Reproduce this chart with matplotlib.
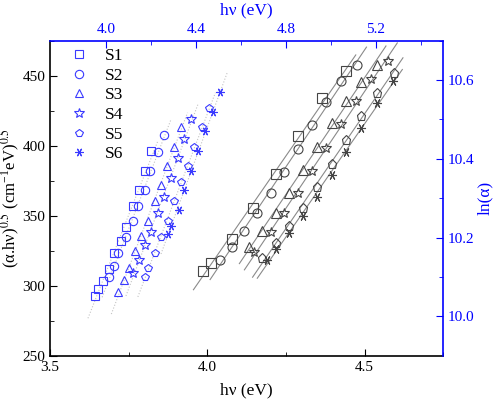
import numpy as np
import matplotlib
matplotlib.use("Agg")
import matplotlib.pyplot as plt

plt.rcParams['font.family'] = ['Liberation Serif', 'DejaVu Serif']
plt.rcParams['mathtext.fontset'] = 'stix'

labels = ['S1', 'S2', 'S3', 'S4', 'S5', 'S6']
markers = ['s', 'o', '^', '*', 'p', (6, 2, 90)]

# Tauc plot: (alpha.hv)^0.5 vs hv  (bottom / left axes)
tauc_x = [
    [3.986, 4.013, 4.077, 4.145, 4.217, 4.287, 4.365, 4.442],
    [4.039, 4.077, 4.118, 4.159, 4.201, 4.245, 4.289, 4.334, 4.378, 4.426, 4.476],
    [4.132, 4.173, 4.218, 4.260, 4.305, 4.349, 4.395, 4.441, 4.489, 4.538],
    [4.148, 4.203, 4.245, 4.289, 4.333, 4.378, 4.426, 4.472, 4.522, 4.574],
    [4.174, 4.217, 4.259, 4.304, 4.350, 4.395, 4.441, 4.489, 4.539, 4.592],
    [4.189, 4.217, 4.259, 4.304, 4.349, 4.395, 4.441, 4.489, 4.539, 4.590],
]
tauc_y = [
    [310.7, 316.0, 333.4, 355.3, 379.8, 407.1, 433.9, 453.1],
    [318.4, 327.9, 339.3, 351.7, 366.0, 381.0, 397.4, 414.6, 431.0, 446.0, 457.9],
    [327.9, 339.1, 351.9, 366.4, 382.6, 399.3, 416.0, 431.9, 445.7, 457.6],
    [324.3, 338.6, 351.7, 366.0, 382.1, 398.6, 415.5, 432.1, 447.6, 460.5],
    [319.6, 330.7, 342.6, 355.7, 370.7, 386.7, 404.1, 421.2, 437.9, 452.1],
    [318.4, 326.0, 337.4, 349.8, 363.6, 379.1, 395.7, 412.4, 430.3, 446.4],
]

# Urbach plot: ln(alpha) vs hv  (top / right axes)
urb_x = [
    [3.949, 3.962, 3.984, 4.011, 4.037, 4.064, 4.090, 4.118, 4.146, 4.173, 4.199],
    [4.012, 4.036, 4.054, 4.090, 4.118, 4.142, 4.174, 4.196, 4.229, 4.258],
    [4.053, 4.078, 4.102, 4.130, 4.157, 4.186, 4.217, 4.244, 4.272, 4.303, 4.332],
    [4.118, 4.145, 4.174, 4.201, 4.229, 4.258, 4.289, 4.318, 4.347, 4.378],
    [4.171, 4.186, 4.217, 4.245, 4.273, 4.304, 4.334, 4.365, 4.393, 4.428, 4.456],
    [4.274, 4.288, 4.322, 4.348, 4.379, 4.410, 4.441, 4.476, 4.508],
]
urb_y = [
    [10.051, 10.070, 10.089, 10.121, 10.161, 10.191, 10.228, 10.279, 10.320, 10.368, 10.419],
    [10.099, 10.129, 10.161, 10.201, 10.241, 10.280, 10.321, 10.368, 10.418, 10.460],
    [10.062, 10.093, 10.122, 10.165, 10.203, 10.243, 10.294, 10.333, 10.382, 10.431, 10.482],
    [10.110, 10.142, 10.180, 10.213, 10.263, 10.302, 10.351, 10.401, 10.450, 10.501],
    [10.101, 10.123, 10.161, 10.201, 10.241, 10.292, 10.340, 10.381, 10.430, 10.480, 10.530],
    [10.209, 10.230, 10.270, 10.321, 10.370, 10.419, 10.470, 10.520, 10.570],
]

blue = '#0000ff'
mblue = '#3a3aff'
grey = '#444444'

def msize(m, base):
    return base + 1 if m == '*' else base

fig = plt.figure(figsize=(4.98, 3.99), dpi=100)
ax = fig.add_axes([0.1004, 0.1085, 0.7896, 0.7895])
axr = ax.twinx()
axt = axr.twiny()

for i in range(6):
    xs = np.array(tauc_x[i])
    ys = np.array(tauc_y[i])
    k, b = np.polyfit(xs, ys, 1)
    xl = np.array([xs.min() - 0.03, xs.max() + 0.03])
    ax.plot(xl, k * xl + b, color='#8a8a8a', lw=0.8, zorder=1)
    ax.plot(xs, ys, ls='none', marker=markers[i], ms=msize(markers[i], 6.5),
            mfc='none', mec=grey, mew=0.8, zorder=2)

handles = []
for i in range(6):
    xs = np.array(urb_x[i])
    ys = np.array(urb_y[i])
    k, b = np.polyfit(xs, ys, 1)
    xl = np.array([xs.min() - 0.03, xs.max() + 0.03])
    axt.plot(xl, k * xl + b, color='#c4c4c4', lw=0.8, ls=':', zorder=1)
    h, = axt.plot(xs, ys, ls='none', marker=markers[i], ms=msize(markers[i], 6),
                  mfc='none', mec=mblue, mew=0.8, label=labels[i], zorder=2)
    handles.append(h)

ax.set_xlim(3.5, 4.75)
ax.set_ylim(250, 475)
axr.set_ylim(9.9, 10.7)
axt.set_xlim(3.75, 5.5)

ax.set_xticks([3.5, 4.0, 4.5])
ax.set_xticks([3.75, 4.25, 4.75], minor=True)
ax.set_yticks([250, 300, 350, 400, 450])
ax.set_yticks([275, 325, 375, 425, 475], minor=True)
axr.set_yticks([10.0, 10.2, 10.4, 10.6])
axr.set_yticks([10.1, 10.3, 10.5, 10.7], minor=True)
axt.set_xticks([4.0, 4.4, 4.8, 5.2])
axt.set_xticks([4.2, 4.6, 5.0, 5.4], minor=True)

ax.tick_params(which='both', direction='in', labelsize=11, colors='black')
ax.tick_params(which='major', length=5)
ax.tick_params(which='minor', length=3)
axr.tick_params(which='both', direction='in', labelsize=11, colors=blue)
axr.tick_params(which='major', length=5)
axr.tick_params(which='minor', length=3)
axt.tick_params(which='both', direction='in', labelsize=11, colors=blue)
axt.tick_params(which='major', length=5)
axt.tick_params(which='minor', length=3)

for s in ['top', 'right']:
    ax.spines[s].set_visible(False)
for s in ['top', 'left', 'bottom']:
    axr.spines[s].set_visible(False)
for s in ['left', 'right', 'bottom']:
    axt.spines[s].set_visible(False)
axr.spines['right'].set_color(blue)
axt.spines['top'].set_color(blue)
for sp in [ax.spines['left'], ax.spines['bottom'], axr.spines['right'], axt.spines['top']]:
    sp.set_linewidth(1.2)

ax.set_xlabel('hν (eV)', fontsize=12.5, labelpad=6)
ax.set_ylabel(r'(α.hν)$^{0.5}$ (cm$^{\mathregular{-1}}$eV)$^{0.5}$', fontsize=12)
ax.yaxis.set_label_coords(-0.072, 0.5)
axr.set_ylabel('ln(α)', fontsize=12.5, color=blue)
axr.yaxis.set_label_coords(1.085, 0.5)
axt.set_xlabel('hν (eV)', fontsize=12.5, color=blue, labelpad=6)

leg = axt.legend(handles=handles, loc='upper left', bbox_to_anchor=(0.02, 1.01),
                 frameon=False, fontsize=12.5, handlelength=1.2, handletextpad=0.9,
                 labelspacing=0.2, borderaxespad=0.2)

fig.savefig('out.png', dpi=100)
